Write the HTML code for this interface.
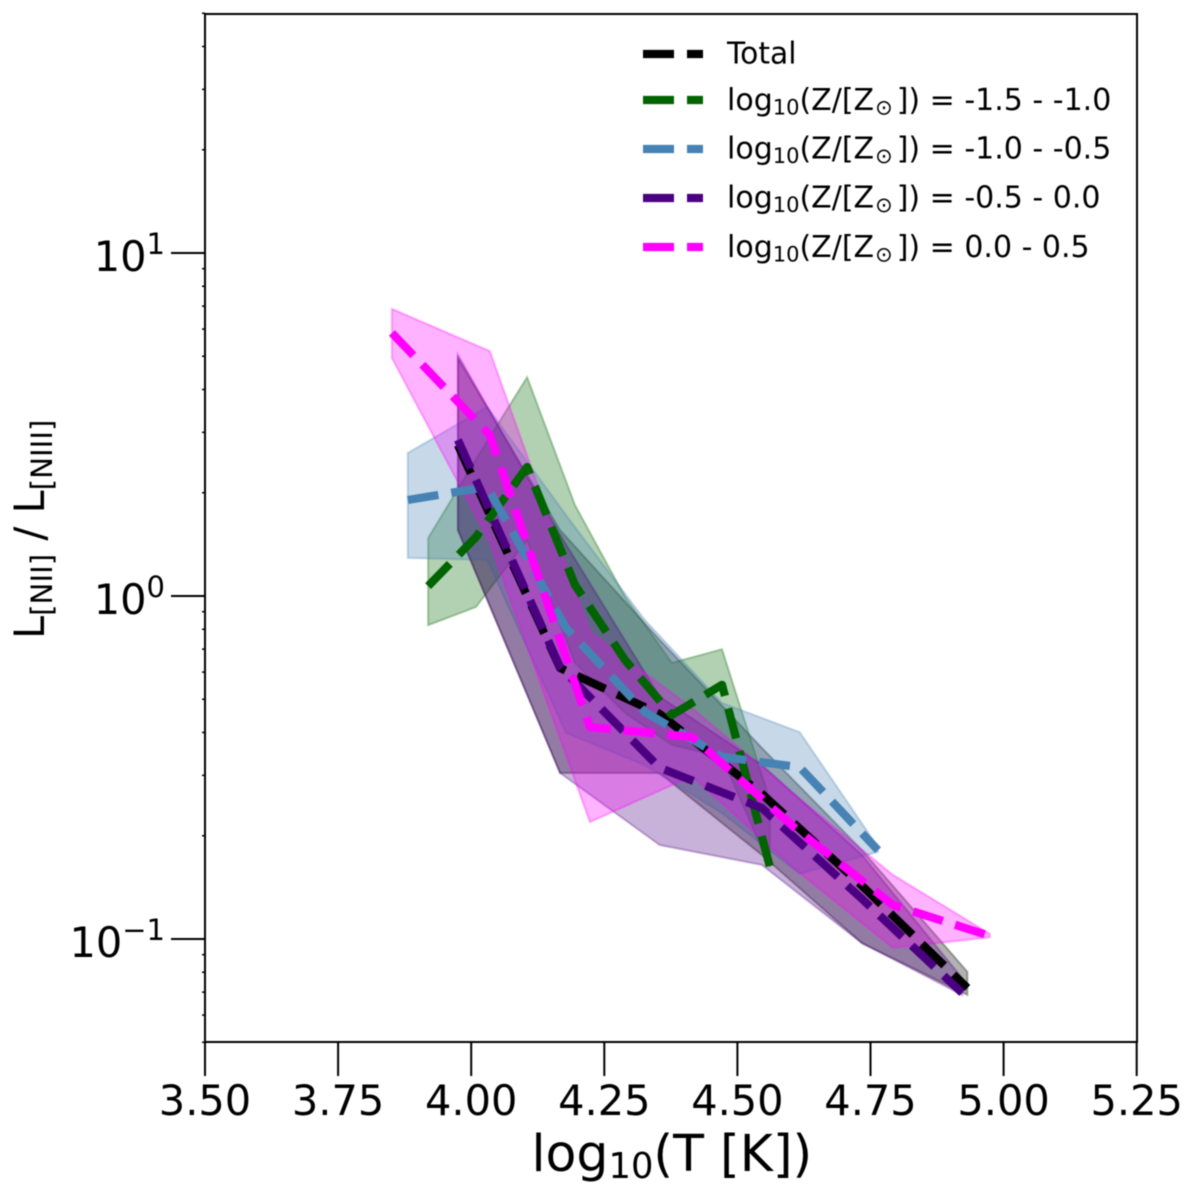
<!DOCTYPE html>
<html lang="en">
<head>
<meta charset="utf-8">
<title>L[NII] / L[NIII] versus temperature</title>
<style>
  html, body { margin: 0; padding: 0; background: #ffffff; }
  svg { display: block; filter: blur(0.45px); }
  text { font-family: "DejaVu Sans", "Liberation Sans", sans-serif; fill: #000000; }
</style>
</head>
<body>
<svg id="chart" xmlns="http://www.w3.org/2000/svg" width="1200" height="1197" viewBox="0 0 1200 1197">
  <rect x="0" y="0" width="1200" height="1197" fill="#ffffff"/>
  <g id="bands"></g>
  <g id="lines"></g>
  <g id="axes"></g>
  <rect x="205" y="14" width="932" height="1028" fill="none" stroke="#000" stroke-width="2"/>

  <text x="531.5" y="1171" font-size="50.5">log<tspan font-size="35.3" dy="7">10</tspan><tspan dy="-7">(T [K])</tspan></text>
  <text transform="translate(44,639) rotate(-90)" font-size="41.5">L<tspan font-size="29.3" dy="8">[NII]</tspan><tspan dy="-8"> / L</tspan><tspan font-size="29.3" dy="8">[NIII]</tspan></text>

  <g>
    <g>
      <path d="M643 54H703" stroke="#000000" stroke-width="8.2" stroke-dasharray="31 13" fill="none"/>
      <text x="727" y="63.5" font-size="29.8">Total</text>
    </g>
    <g>
      <path d="M643 100H703" stroke="#006400" stroke-width="8.2" stroke-dasharray="31 13" fill="none"/>
      <text x="727" y="110" font-size="30">log<tspan font-size="21" dy="4.5">10</tspan><tspan dy="-4.5">(Z/[Z</tspan><tspan font-size="21" dy="4.5" dx="1">⊙</tspan><tspan dy="-4.5" dx="4">]) = -1.5 - -1.0</tspan></text>
    </g>
    <g>
      <path d="M643 149H703" stroke="#4682b4" stroke-width="8.2" stroke-dasharray="31 13" fill="none"/>
      <text x="727" y="158.5" font-size="30">log<tspan font-size="21" dy="4.5">10</tspan><tspan dy="-4.5">(Z/[Z</tspan><tspan font-size="21" dy="4.5" dx="1">⊙</tspan><tspan dy="-4.5" dx="4">]) = -1.0 - -0.5</tspan></text>
    </g>
    <g>
      <path d="M643 198H703" stroke="#4b0082" stroke-width="8.2" stroke-dasharray="31 13" fill="none"/>
      <text x="727" y="207.5" font-size="30">log<tspan font-size="21" dy="4.5">10</tspan><tspan dy="-4.5">(Z/[Z</tspan><tspan font-size="21" dy="4.5" dx="1">⊙</tspan><tspan dy="-4.5" dx="4">]) = -0.5 - 0.0</tspan></text>
    </g>
    <g>
      <path d="M643 247H703" stroke="#ff00ff" stroke-width="8.2" stroke-dasharray="31 13" fill="none"/>
      <text x="727" y="257" font-size="30">log<tspan font-size="21" dy="4.5">10</tspan><tspan dy="-4.5">(Z/[Z</tspan><tspan font-size="21" dy="4.5" dx="1">⊙</tspan><tspan dy="-4.5" dx="4">]) = 0.0 - 0.5</tspan></text>
    </g>
  </g>
</svg>
<script>
// Axis tick labels
const xTickValues = [3.5, 3.75, 4.0, 4.25, 4.5, 4.75, 5.0, 5.25];
const xTickLabels = ["3.50", "3.75", "4.00", "4.25", "4.50", "4.75", "5.00", "5.25"];
const yMajorExponents = [1, 0, -1];
const yMajorSuperscripts = ["1", "0", "\u22121"];
const yMinorValues = [40, 30, 20, 9, 8, 7, 6, 5, 4, 3, 2, 0.9, 0.8, 0.7, 0.6, 0.5, 0.4, 0.3, 0.2, 0.09, 0.08, 0.07, 0.06, 0.05, 50];

// Series values: x is log10(T), the rest are log10 of the luminosity ratio
const totalX = [3.975, 4.167, 4.354, 4.546, 4.734, 4.932];
const totalMid = [0.440, -0.210, -0.344, -0.577, -0.845, -1.143];
const totalUpper = [0.694, 0.192, -0.128, -0.443, -0.741, -1.096];
const totalLower = [0.192, -0.516, -0.516, -0.755, -1.012, -1.163];

const greenX = [3.919, 4.009, 4.105, 4.195, 4.289, 4.377, 4.471, 4.561];
const greenMid = [0.029, 0.172, 0.376, 0.032, -0.187, -0.347, -0.259, -0.790];
const greenUpper = [0.169, 0.399, 0.638, 0.265, -0.003, -0.195, -0.155, -0.595];
const greenLower = [-0.085, -0.032, 0.163, -0.195, -0.341, -0.434, -0.469, -0.790];

const blueX = [3.881, 4.030, 4.178, 4.326, 4.471, 4.617, 4.764];
const blueMid = [0.280, 0.318, -0.093, -0.338, -0.469, -0.499, -0.741];
const blueUpper = [0.417, 0.551, 0.236, -0.070, -0.312, -0.397, -0.732];
const blueLower = [0.111, 0.105, -0.399, -0.493, -0.633, -0.810, -0.746];

const purpleX = [3.975, 4.167, 4.354, 4.546, 4.734, 4.922];
const purpleMid = [0.455, -0.207, -0.501, -0.618, -0.883, -1.157];
const purpleUpper = [0.703, 0.178, -0.294, -0.493, -0.755, -1.114];
const purpleLower = [0.192, -0.516, -0.726, -0.784, -1.012, -1.163];

const magentaX = [3.851, 4.035, 4.223, 4.415, 4.608, 4.792, 4.974];
const magentaMid = [0.767, 0.469, -0.382, -0.411, -0.676, -0.901, -0.991];
const magentaUpper = [0.837, 0.714, -0.105, -0.327, -0.580, -0.813, -0.985];
const magentaLower = [0.694, 0.157, -0.659, -0.525, -0.796, -1.026, -0.995];

const seriesNames = ["total", "z-1", "z-2", "z-3", "z-4"];
const seriesColors = ["#000000", "#006400", "#4682b4", "#4b0082", "#ff00ff"];

// Axis functions
function xScale(v) { return 205 + (v - 3.5) * 532.4; }
function yScale(logValue) { return 596 - 343 * logValue; }

const NS = "http://www.w3.org/2000/svg";
const bandsGroup = document.getElementById("bands");
const linesGroup = document.getElementById("lines");
const axesGroup = document.getElementById("axes");

function make(tag, attrs, parent) {
  const node = document.createElementNS(NS, tag);
  Object.keys(attrs).forEach(function (k) { node.setAttribute(k, attrs[k]); });
  parent.appendChild(node);
  return node;
}

const allX = [totalX, greenX, blueX, purpleX, magentaX];
const allMid = [totalMid, greenMid, blueMid, purpleMid, magentaMid];
const allUpper = [totalUpper, greenUpper, blueUpper, purpleUpper, magentaUpper];
const allLower = [totalLower, greenLower, blueLower, purpleLower, magentaLower];

seriesNames.forEach(function (name, i) {
  const xs = allX[i];
  const upperPts = xs.map(function (x, j) { return xScale(x).toFixed(1) + "," + yScale(allUpper[i][j]).toFixed(1); });
  const lowerPts = xs.map(function (x, j) { return xScale(x).toFixed(1) + "," + yScale(allLower[i][j]).toFixed(1); }).reverse();
  const band = make("polygon", {
    points: upperPts.concat(lowerPts).join(" "),
    fill: seriesColors[i],
    "fill-opacity": 0.3,
    stroke: seriesColors[i],
    "stroke-opacity": 0.3,
    "stroke-width": 2
  }, bandsGroup);
  
  

  const midPts = xs.map(function (x, j) { return xScale(x).toFixed(1) + "," + yScale(allMid[i][j]).toFixed(1); });
  const line = make("polyline", {
    points: midPts.join(" "),
    fill: "none",
    stroke: seriesColors[i],
    "stroke-width": 8.2,
    "stroke-dasharray": "31 13",
    "stroke-linejoin": "round"
  }, linesGroup);
  
  
});

// X ticks
xTickValues.forEach(function (v, i) {
  const px = xScale(v);
  const tick = make("line", { x1: px, x2: px, y1: 1042, y2: 1076, stroke: "#000", "stroke-width": 2 }, axesGroup);
  
  
  const label = make("text", { x: px, y: 1115, "font-size": 41.5, "text-anchor": "middle" }, axesGroup);
  label.textContent = xTickLabels[i];
  
  
});

// Y major ticks
yMajorExponents.forEach(function (e, i) {
  const py = yScale(e);
  const tick = make("line", { x1: 171, x2: 205, y1: py, y2: py, stroke: "#000", "stroke-width": 2 }, axesGroup);
  
  
  const label = make("text", { x: 165, y: py + 18, "font-size": 41.5, "text-anchor": "end" }, axesGroup);
  
  
  const base = make("tspan", {}, label);
  base.textContent = "10";
  const sup = make("tspan", { "font-size": 29, dy: -17 }, label);
  sup.textContent = yMajorSuperscripts[i];
});

// Y minor ticks
yMinorValues.forEach(function (v) {
  const py = yScale(Math.log10(v));
  const tick = make("line", { x1: 202, x2: 205, y1: py, y2: py, stroke: "#000", "stroke-width": 1.5 }, axesGroup);
  
  
});
</script>
</body>
</html>
